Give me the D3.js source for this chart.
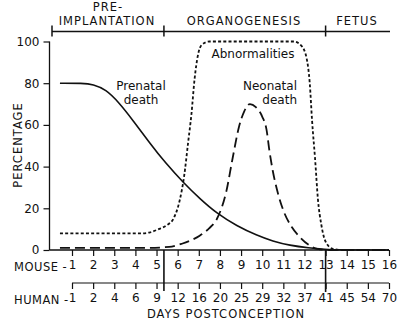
<!DOCTYPE html>
<html><head><meta charset="utf-8">
<script src="https://cdn.jsdelivr.net/npm/d3@7"></script>
<style>body{margin:0;background:#fff}svg{display:block}text{font-family:"DejaVu Sans",sans-serif;fill:#111}</style>
</head><body>
<svg id="c" width="397" height="322"></svg>
<script>
const mouseDays = [1,2,3,4,5,6,7,8,9,10,11,12,13,14,15,16];
const humanDays = ["1","2","4","6","9","12","16","20","25","29","32","37","41","45","54","70"];
const yTicks = [0,20,40,60,80,100];
const periods = ["PRE-\nIMPLANTATION","ORGANOGENESIS","FETUS"];
const periodBounds = [0.0, 5.35, 13.0, 16.0];
// values in mouse days, percent
const prenatalDeath = [[0.43,80],[1.5,80],[2.0,79.5],[2.6,77],[3.2,71],[3.9,62],[4.7,51],[5.4,42],[6.25,32.5],[7.06,24.5],[7.86,17.5],[8.8,11.5],[9.75,7],[10.5,4.2],[11.3,2.2],[12.2,1],[13.0,0.3],[13.5,0],[16,0]];
const abnormalities = [[0.43,8],[4.3,8],[4.7,8.5],[5.1,10],[5.5,12],[5.8,15],[6.1,24],[6.3,35],[6.5,52],[6.65,65],[6.8,82],[6.95,93],[7.15,98.5],[7.5,100],[11.5,100],[11.85,98],[12.1,92],[12.25,80],[12.36,62],[12.5,44],[12.64,24],[12.8,12],[13.0,4],[13.35,0.5],[13.8,0],[16,0]];
const neonatalDeath = [[0.43,1],[4.5,1],[5.6,1.5],[6.2,3],[6.6,4.5],[7.06,7],[7.5,10.5],[7.86,15],[8.3,28],[8.6,44],[8.9,59],[9.15,66.5],[9.42,70],[9.7,68.5],[10.0,64],[10.2,58],[10.35,47],[10.5,38],[10.75,27],[11.0,19],[11.4,11],[11.8,6],[12.2,2.5],[12.6,0.5],[13.2,0],[16,0]];

const svg = d3.select("#c");
const x = d3.scaleLinear().domain([1,16]).range([72,389]);
const y = d3.scaleLinear().domain([0,100]).range([250,41.5]);

// y axis
const ya = svg.append("g").attr("transform","translate(49.5,0)")
  .call(d3.axisLeft(y).tickValues(yTicks).tickSize(6).tickPadding(4));
ya.select(".domain").attr("d","M0,"+y(100)+"V"+y(0)).attr("stroke","#111").attr("stroke-width",1.3);
ya.selectAll("line").attr("stroke","#111").attr("stroke-width",1.2);
ya.selectAll("text").style("font-size","12px").attr("font-family","DejaVu Sans");
svg.append("text").attr("transform","translate(18,145) rotate(-90)").attr("text-anchor","middle")
  .attr("dominant-baseline","middle").style("font-size","11.5px").style("letter-spacing","1px").text("PERCENTAGE");

// mouse axis
const xm = svg.append("g").attr("transform","translate(0,250)")
  .call(d3.axisBottom(x).tickValues(mouseDays).tickFormat(d3.format("d")).tickSize(6).tickPadding(4));
xm.select(".domain").attr("d","M49.5,0H389").attr("stroke","#111").attr("stroke-width",1.5);
xm.selectAll("line").attr("stroke","#111").attr("stroke-width",1.2);
xm.selectAll("text").style("font-size","12px");

// human axis
const xh = svg.append("g").attr("transform","translate(0,283)")
  .call(d3.axisBottom(x).tickValues(mouseDays).tickFormat((d,i)=>humanDays[i]).tickSize(6).tickPadding(4));
xh.select(".domain").attr("d","M72,0H389").attr("stroke","#111").attr("stroke-width",1.2);
xh.selectAll("line").attr("stroke","#111").attr("stroke-width",1.2);
xh.selectAll("text").style("font-size","12px");

svg.append("text").attr("x",14).attr("y",271).style("font-size","11.5px").style("letter-spacing","0.5px").text("MOUSE -");
svg.append("text").attr("x",14).attr("y",304).style("font-size","11.5px").style("letter-spacing","0.5px").text("HUMAN -");
svg.append("text").attr("x",226).attr("y",318).attr("text-anchor","middle").style("font-size","11.5px").style("letter-spacing","1px").text("DAYS POSTCONCEPTION");

// dividers across axes
[5.35,13.0].forEach(d=>{
  svg.append("line").attr("x1",x(d)).attr("x2",x(d)).attr("y1",250).attr("y2",d===13?292:291)
    .attr("stroke","#111").attr("stroke-width",1.6);
});

// header bracket
const hy = 31.5;
svg.append("line").attr("x1",52).attr("x2",390).attr("y1",hy).attr("y2",hy).attr("stroke","#111").attr("stroke-width",1.3);
periodBounds.slice(0,3).forEach((d,i)=>{
  const px = i===0?52:x(d);
  svg.append("line").attr("x1",px).attr("x2",px).attr("y1",hy-6).attr("y2",hy+5).attr("stroke","#111").attr("stroke-width",1.5);
});
svg.append("text").attr("x",108).attr("y",11).attr("text-anchor","middle").style("font-size","11.5px").style("letter-spacing","1px").text(periods[0].split("\n")[0]);
svg.append("text").attr("x",107).attr("y",25).attr("text-anchor","middle").style("font-size","11.5px").style("letter-spacing","1px").text(periods[0].split("\n")[1]);
svg.append("text").attr("x",244).attr("y",25).attr("text-anchor","middle").style("font-size","11.5px").style("letter-spacing","1px").text(periods[1]);
svg.append("text").attr("x",357).attr("y",25).attr("text-anchor","middle").style("font-size","11.5px").style("letter-spacing","1px").text(periods[2]);

// curves
const line = d3.line().x(d=>x(d[0])).y(d=>y(d[1])).curve(d3.curveMonotoneX);
const smooth = d3.line().x(d=>x(d[0])).y(d=>y(d[1])).curve(d3.curveBasis);
svg.append("path").attr("d",smooth(prenatalDeath)).attr("fill","none").attr("stroke","#111").attr("stroke-width",1.6);
svg.append("path").attr("d",line(abnormalities)).attr("fill","none").attr("stroke","#111").attr("stroke-width",1.8).attr("stroke-dasharray","3,2.2");
svg.append("path").attr("d",line(neonatalDeath)).attr("fill","none").attr("stroke","#111").attr("stroke-width",1.8).attr("stroke-dasharray","10,5");

// labels
const lab = (t,xx,yy,anchor)=>svg.append("text").attr("x",xx).attr("y",yy).attr("text-anchor",anchor).style("font-size","12px").text(t);
lab("Prenatal",141,90,"middle");
lab("death",141,104,"middle");
lab("Abnormalities",253,58,"middle");
lab("Neonatal",297,90,"end");
lab("death",297,104,"end");
</script>
</body></html>
